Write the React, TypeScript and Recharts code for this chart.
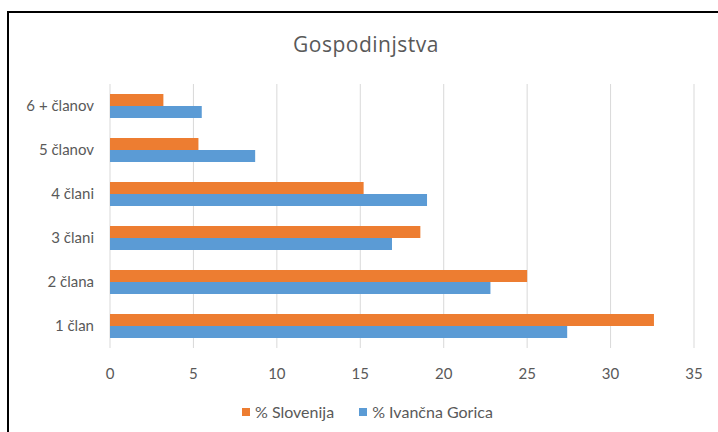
import { Bar, BarChart, CartesianGrid, XAxis, YAxis } from "recharts";

const categories = ["6 + članov", "5 članov", "4 člani", "3 člani", "2 člana", "1 član"];
const slovenija = [3.2, 5.3, 15.2, 18.6, 25.0, 32.6];
const ivancnaGorica = [5.5, 8.7, 19.0, 16.9, 22.8, 27.4];
const xTicks = [0, 5, 10, 15, 20, 25, 30, 35];

const ORANGE = "#ED7D31";
const BLUE = "#5B9BD5";
const TEXT = "#595959";
const FONT = "Lato, 'Open Sans', sans-serif";

const data = categories.map((name, i) => ({
  name,
  slovenija: slovenija[i],
  ivancna: ivancnaGorica[i],
}));

// Excel-style clustered horizontal bars: Slovenija on top of each pair, Ivančna Gorica below.
export default function App() {
  return (
    <div style={{ position: "fixed", left: 0, top: 0, width: 718, height: 432, background: "#fff", fontFamily: FONT, overflow: "hidden" }}>
      <div style={{ position: "absolute", left: 7, top: 11, width: 760, height: 480, borderLeft: "2px solid #000", borderTop: "2px solid #000" }} />
      <div style={{ position: "absolute", left: 0, width: 732, top: 30, textAlign: "center", fontSize: 21, letterSpacing: 0.5, color: TEXT, fontFamily: "'Open Sans', sans-serif" }}>
        Gospodinjstva
      </div>
      <BarChart
        width={718}
        height={432}
        layout="vertical"
        data={data}
        margin={{ top: 84, right: 24, bottom: 0, left: 0 }}
        barGap={0}
        barSize={12}
        style={{ position: "absolute", left: 0, top: 0, fontFamily: FONT }}
      >
        <CartesianGrid stroke="#d9d9d9" horizontal={false} vertical={true} />
        <XAxis
          type="number"
          domain={[0, 35]}
          ticks={xTicks}
          axisLine={false}
          tickLine={false}
          tickMargin={14}
          height={84}
          tick={{ fill: TEXT, fontSize: 15 }}
          interval={0}
        />
        <YAxis
          type="category"
          dataKey="name"
          width={110}
          axisLine={false}
          tickLine={false}
          tickMargin={10}
          tick={{ fill: TEXT, fontSize: 15 }}
        />
        <Bar dataKey="slovenija" name="% Slovenija" fill={ORANGE} isAnimationActive={false} />
        <Bar dataKey="ivancna" name="% Ivančna Gorica" fill={BLUE} isAnimationActive={false} />
      </BarChart>
      <div style={{ position: "absolute", top: 402, left: 242, display: "flex", gap: 25, fontSize: 16, color: TEXT }}>
        <span style={{ display: "flex", alignItems: "center", gap: 5 }}>
          <span style={{ width: 8, height: 8, background: ORANGE, display: "inline-block" }} />% Slovenija
        </span>
        <span style={{ display: "flex", alignItems: "center", gap: 5 }}>
          <span style={{ width: 8, height: 8, background: BLUE, display: "inline-block" }} />% Ivančna Gorica
        </span>
      </div>
    </div>
  );
}
